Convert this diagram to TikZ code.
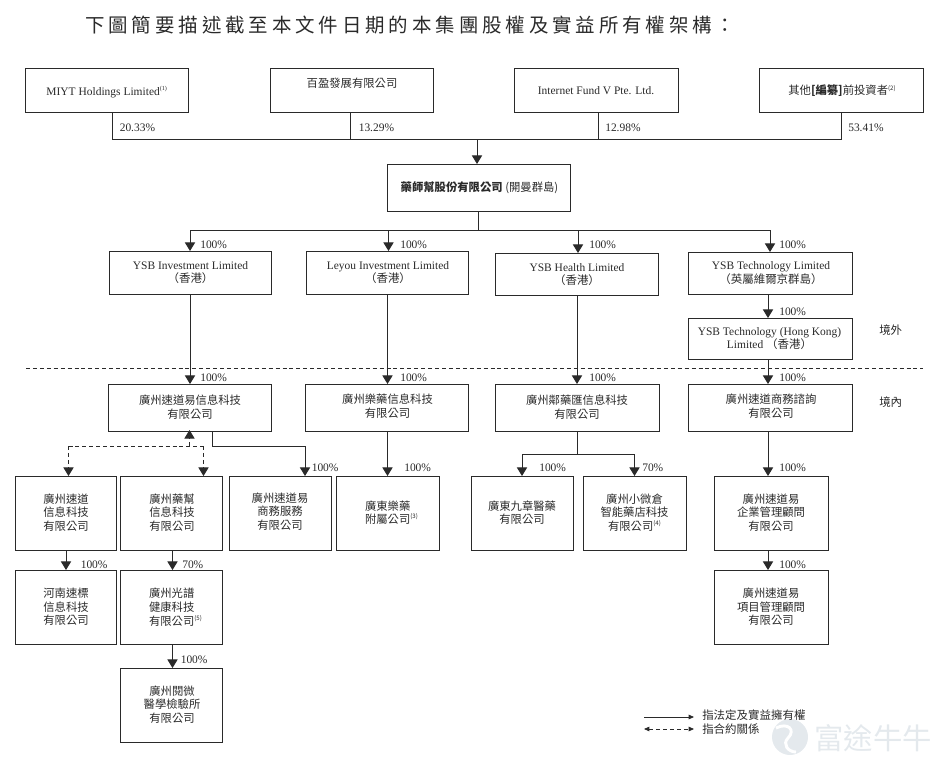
\documentclass[tikz,border=0pt]{standalone}
\usepackage{fontspec}
\usetikzlibrary{arrows.meta}
\setmainfont{Liberation Serif}
\newfontfamily\cjk{Noto Sans CJK TC}
\newfontfamily\cjktitle[LetterSpace=20]{Noto Sans CJK TC}
\definecolor{ink}{HTML}{2A2A2A}
\definecolor{wm}{HTML}{E4E9ED}
\newcommand\supn[1]{\raisebox{0.42em}{\fontsize{4.6pt}{5pt}\selectfont (#1)}}
\newcommand\orgbox[5]{\node[orgb,minimum width={(#4-#2)*0.75pt},minimum height={(#5-#3)*0.75pt}] (#1) at ({(#2+#4)/2},{(#3+#5)/2}) {};}
\newcommand\orgtxt[4]{\node[orgt] (#1t) at (#2,#3) {#4};}
\newcommand\orgcj[4]{\node[orgt,font=\fontsize{8.5pt}{10.2pt}\selectfont\cjk] (#1t) at (#2,#3) {#4};}
\newcommand\pct[4]{\node[pctl] (#1) at (#2,#3) {#4};}
\tikzset{
 orgb/.style={draw=ink,line width=0.75pt,inner sep=0pt,outer sep=0pt},
 orgt/.style={align=center,inner sep=0pt,text=ink,font=\fontsize{8.6pt}{10.2pt}\selectfont},
 pctl/.style={anchor=west,inner sep=0pt,text=ink,font=\fontsize{8.6pt}{10pt}\selectfont},
 conn/.style={draw=ink,line width=0.75pt},
 arr/.style={conn,-{Triangle[width=7.6pt,length=6.4pt]}},
 dsh/.style={arr,dash pattern=on 3pt off 2.2pt},
}
\begin{document}
\begin{tikzpicture}[x=0.75pt,y=-0.75pt]
\useasboundingbox (0,0) rectangle (952,774);
% watermark
\fill[wm] (790,737) circle (18);
\draw[white,line width=2.2pt] (776,728) .. controls (788,722) and (796,730) .. (788,738) .. controls (782,744) and (788,752) .. (796,752);
\node[inner sep=0pt,text=wm,font=\fontsize{22pt}{24pt}\selectfont\cjk] (wmark) at (873,738) {富途牛牛};
% title
\node[anchor=west,inner sep=0pt,text=ink,font=\fontsize{14.6pt}{16pt}\selectfont\cjktitle] (title) at (85,25) {下圖簡要描述截至本文件日期的本集團股權及實益所有權架構：};
% boxes
\orgbox{miyt}{25}{69}{188}{112}
\orgbox{baiy}{270}{69}{433}{112}
\orgbox{inet}{514}{69}{678}{112}
\orgbox{othr}{759}{69}{923}{112}
\orgbox{hold}{387}{164}{570}{211}
\orgbox{yinv}{109}{251}{271}{294}
\orgbox{leyo}{306}{251}{468}{294}
\orgbox{yhea}{495}{253}{658}{295}
\orgbox{ytec}{688}{252}{852}{294}
\orgbox{ythk}{688.5}{318}{852}{359}
\orgbox{gsdy}{108.5}{384}{271.5}{431}
\orgbox{gley}{305}{384}{468}{431}
\orgbox{glin}{495.5}{384}{659}{431}
\orgbox{gcon}{688.5}{384}{852}{431}
\orgbox{aa}{15}{476}{116.5}{550}
\orgbox{bb}{120.5}{476}{222.5}{550}
\orgbox{cc}{229}{476}{331}{550}
\orgbox{dd}{336.5}{476}{439}{550}
\orgbox{ee}{15}{570}{116.5}{644}
\orgbox{ff}{120.5}{570}{222.5}{644}
\orgbox{gg}{120.5}{668}{222.5}{742}
\orgbox{hh}{471.5}{476}{573}{550}
\orgbox{ii}{583.5}{476}{686}{550}
\orgbox{jj}{714.5}{476}{828}{550}
\orgbox{kk}{714.5}{570}{828}{644}
% texts
\orgtxt{miyt}{106.7}{92.5}{MIYT Holdings Limited\supn{1}}
\orgcj{baiy}{352}{83}{百盈發展有限公司}
\orgtxt{inet}{596}{90.5}{Internet Fund V Pte. Ltd.}
\orgcj{othr}{842}{91}{其他\textbf{[編纂]}前投資者\supn{2}}
\orgcj{hold}{479.5}{187.5}{\textbf{藥師幫股份有限公司} (開曼群島)}
\orgtxt{yinv}{190.5}{272.5}{YSB Investment Limited\\{\cjk （香港）}}
\orgtxt{leyo}{388}{272.5}{Leyou Investment Limited\\{\cjk （香港）}}
\orgtxt{yhea}{577}{274.5}{YSB Health Limited\\{\cjk （香港）}}
\orgtxt{ytec}{771}{273}{YSB Technology Limited\\{\cjk （英屬維爾京群島）}}
\orgtxt{ythk}{769.5}{338.5}{YSB Technology (Hong Kong)\\Limited {\cjk （香港）}}
\orgcj{gsdy}{190}{407}{廣州速道易信息科技\\有限公司}
\orgcj{gley}{387.5}{406}{廣州樂藥信息科技\\有限公司}
\orgcj{glin}{577}{407}{廣州鄰藥匯信息科技\\有限公司}
\orgcj{gcon}{771}{406}{廣州速道商務諮詢\\有限公司}
\orgcj{aa}{66}{512.5}{廣州速道\\信息科技\\有限公司}
\orgcj{bb}{172}{512.5}{廣州藥幫\\信息科技\\有限公司}
\orgcj{cc}{280}{511.5}{廣州速道易\\商務服務\\有限公司}
\orgcj{dd}{391.5}{512.5}{廣東樂藥\phantom{\supn{3}}\\附屬公司\supn{3}}
\orgcj{ee}{66}{607}{河南速標\\信息科技\\有限公司}
\orgcj{ff}{175.5}{607}{廣州光譜\phantom{\supn{5}}\\健康科技\phantom{\supn{5}}\\有限公司\supn{5}}
\orgcj{gg}{172}{704.5}{廣州閱微\\醫學檢驗所\\有限公司}
\orgcj{hh}{522}{512.5}{廣東九章醫藥\\有限公司}
\orgcj{ii}{634.5}{512.5}{廣州小微倉\\智能藥店科技\\有限公司\supn{4}}
\orgcj{jj}{771}{512.5}{廣州速道易\\企業管理顧問\\有限公司}
\orgcj{kk}{771}{607}{廣州速道易\\項目管理顧問\\有限公司}
% offshore line
\coordinate (dl) at (26,368); \coordinate (dr) at (923,368);
\draw[draw=ink,line width=0.6pt,dash pattern=on 3pt off 2.2pt] (dl) -- (dr);
% shareholders bus
\coordinate (busm) at (112.5,139.5);
\coordinate (busb) at (350,139.5);
\coordinate (busi) at (598.5,139.5);
\coordinate (buso) at (841.5,139.5);
\coordinate (busc) at (477,139.5);
\draw[conn] (miyt.south -| busm) -- (busm) -- (buso) -- (othr.south -| buso);
\draw[conn] (baiy.south -| busb) -- (busb);
\draw[conn] (inet.south -| busi) -- (busi);
\draw[arr] (busc) -- (hold.north -| busc);
% first level bus
\coordinate (b2c) at (478.5,230);
\coordinate (b2a) at (190,230);
\coordinate (b2b) at (388.5,230);
\coordinate (b2h) at (578,230);
\coordinate (b2t) at (770,230);
\draw[conn] (hold.south -| b2c) -- (b2c);
\draw[conn] (b2a) -- (b2t);
\draw[arr] (b2a) -- (yinv.north -| b2a);
\draw[arr] (b2b) -- (leyo.north -| b2b);
\draw[arr] (b2h) -- (yhea.north -| b2h);
\draw[arr] (b2t) -- (ytec.north -| b2t);
% down
\coordinate (va) at (190,300);
\coordinate (vb) at (387.5,300);
\coordinate (vc) at (577,300);
\coordinate (vd) at (768,300);
\draw[arr] (yinv.south -| va) -- (gsdy.north -| va);
\draw[arr] (leyo.south -| vb) -- (gley.north -| vb);
\draw[arr] (yhea.south -| vc) -- (glin.north -| vc);
\draw[arr] (ytec.south -| vd) -- (ythk.north -| vd);
\draw[arr] (ythk.south -| vd) -- (gcon.north -| vd);
\draw[arr] (gcon.south -| vd) -- (jj.north -| vd);
\draw[arr] (jj.south -| vd) -- (kk.north -| vd);
% GZ subsidiaries
\coordinate (sa) at (212,446);
\coordinate (sb) at (305,446);
\draw[arr] (gsdy.south -| sa) -- (sa) -- (sb) -- (cc.north -| sb);
\draw[arr] (gley.south -| vb) -- (dd.north -| vb);
\coordinate (da) at (68.5,446);
\coordinate (db) at (203.5,446);
\coordinate (dc) at (189.5,446);
\draw[dsh] (dc) -- ([yshift=0.75pt]gsdy.south -| dc);
\draw[draw=ink,line width=0.75pt,dash pattern=on 3pt off 2.2pt] (da) -- (db);
\draw[dsh] (da) -- (aa.north -| da);
\draw[dsh] (db) -- (bb.north -| db);
\coordinate (ve) at (66,560);
\coordinate (vf) at (172.5,560);
\draw[arr] (aa.south -| ve) -- (ee.north -| ve);
\draw[arr] (bb.south -| vf) -- (ff.north -| vf);
\draw[arr] (ff.south -| vf) -- (gg.north -| vf);
% health
\coordinate (hc) at (577,454);
\coordinate (hl) at (522,454);
\coordinate (hr) at (634.5,454);
\draw[conn] (glin.south -| hc) -- (hc);
\draw[arr] (hc) -- (hl) -- (hh.north -| hl);
\draw[arr] (hc) -- (hr) -- (ii.north -| hr);
% percentages
\pct{p1}{119.5}{127.5}{20.33\%}
\pct{p2}{358.5}{127.5}{13.29\%}
\pct{p3}{605}{127.5}{12.98\%}
\pct{p4}{848}{127.5}{53.41\%}
\pct{p5}{200}{244.5}{100\%}
\pct{p6}{400}{244.5}{100\%}
\pct{p7}{589}{244.5}{100\%}
\pct{p8}{779}{244.5}{100\%}
\pct{p9}{779}{311.5}{100\%}
\pct{p10}{200}{377.5}{100\%}
\pct{p11}{400}{377.5}{100\%}
\pct{p12}{589}{377.5}{100\%}
\pct{p13}{779}{377.5}{100\%}
\pct{p14}{311.5}{467.5}{100\%}
\pct{p15}{404}{467.5}{100\%}
\pct{p16}{539}{467.5}{100\%}
\pct{p17}{642}{467.5}{70\%}
\pct{p18}{779}{467.5}{100\%}
\pct{p19}{80.5}{564.5}{100\%}
\pct{p20}{182}{564.5}{70\%}
\pct{p21}{779}{564.5}{100\%}
\pct{p22}{180.5}{659.5}{100\%}
\pct{off}{879}{330}{{\cjk 境外}}
\pct{onn}{879}{402}{{\cjk 境內}}
% legend
\coordinate (l1a) at (644,717); \coordinate (l1b) at (694,717);
\coordinate (l2a) at (644,729); \coordinate (l2b) at (694,729);
\draw[draw=ink,line width=0.6pt,-{Triangle[width=3.4pt,length=4pt]}] (l1a) -- (l1b);
\draw[draw=ink,line width=0.6pt,dash pattern=on 3pt off 2.2pt,{Triangle[width=3.4pt,length=4pt]}-{Triangle[width=3.4pt,length=4pt]}] (l2a) -- (l2b);
\pct{leg1}{702}{715}{{\cjk 指法定及實益擁有權}}
\pct{leg2}{702}{729}{{\cjk 指合約關係}}
\end{tikzpicture}
\end{document}
